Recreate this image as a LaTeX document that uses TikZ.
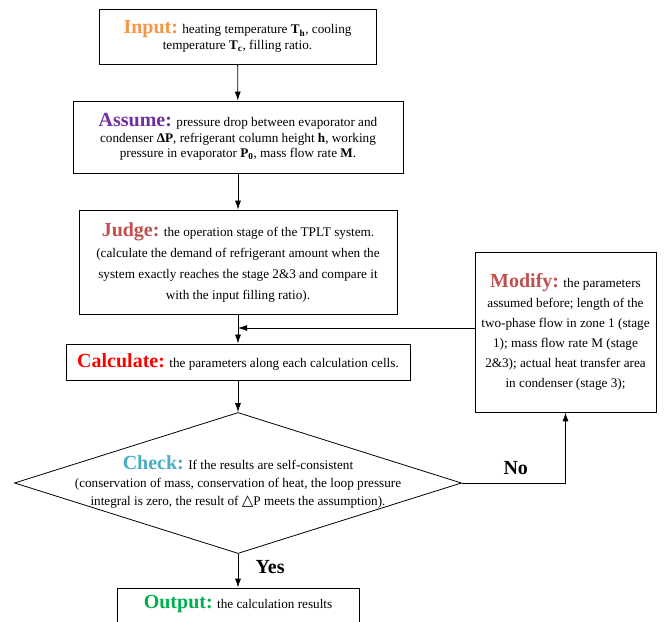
\documentclass[tikz,border=0pt]{standalone}
\usepackage{fontspec}
\setmainfont{Liberation Serif}
\newfontfamily\trifont{DejaVu Sans}
\usetikzlibrary{shapes.geometric,arrows.meta}
\newcommand{\kw}[2]{{\fontsize{20}{20}\selectfont\bfseries\color{#1}#2}}
\newcommand{\bsub}[2]{\textbf{#1\textsubscript{#2}}}
\begin{document}
\begin{tikzpicture}[x=1pt,y=1pt,
  stepbox/.style={draw,line width=0.8pt,inner sep=0pt,align=center,font=\fontsize{13.2}{15.5}\selectfont},
  flow/.style={draw,line width=0.8pt,-{Latex[length=9pt,width=6pt]}},
  answer/.style={font=\fontsize{20}{20}\selectfont\bfseries}]
\definecolor{inputColor}{RGB}{247,150,70}
\definecolor{assumeColor}{RGB}{112,48,160}
\definecolor{judgeColor}{RGB}{192,80,77}
\definecolor{calcColor}{RGB}{255,0,0}
\definecolor{checkColor}{RGB}{75,172,198}
\definecolor{outputColor}{RGB}{0,176,80}
\path[use as bounding box,fill=white] (0,0) rectangle (669,621);

\node[stepbox,minimum width=277,minimum height=55] (input) at (237.5,584.5)
  {\kw{inputColor}{Input:} heating temperature \bsub{T}{h}, cooling\\
   temperature \bsub{T}{c}, filling ratio.};

\node[stepbox,minimum width=330,minimum height=72] (assume) at (238,484)
  {\kw{assumeColor}{Assume:} pressure drop between evaporator and\\
   condenser \textbf{ΔP}, refrigerant column height \textbf{h}, working\\
   pressure in evaporator \bsub{P}{0}, mass flow rate \textbf{M}.};

\node[stepbox,minimum width=318,minimum height=104,
  font=\fontsize{13.2}{21}\selectfont] (judge) at (238,359)
  {\kw{judgeColor}{Judge:} the operation stage of the TPLT system.\\
   (calculate the demand of refrigerant amount when the\\
   system exactly reaches the stage 2\&3 and compare it\\
   with the input filling ratio).};

\node[stepbox,minimum width=344,minimum height=36] (calc) at (238,259)
  {\kw{calcColor}{Calculate:} the parameters along each calculation cells.};

\node[draw,line width=0.8pt,diamond,minimum width=447,minimum height=141,
  inner sep=0pt] (check) at (238,138) {};
\node[align=center,inner sep=0pt,font=\fontsize{13.2}{18}\selectfont] (checktxt) at (238,139)
  {\kw{checkColor}{Check:} If the results are self-consistent\\
   (conservation of mass, conservation of heat, the loop pressure\\
   integral is zero, the result of {\trifont\fontsize{15}{15}\selectfont △}P meets the assumption).};

\node[stepbox,minimum width=242,minimum height=40] (output) at (238,13) {};
\node[inner sep=0pt,font=\fontsize{13.2}{15.5}\selectfont] (outtxt) at (238,17)
  {\kw{outputColor}{Output:} the calculation results};

\node[stepbox,minimum width=181,minimum height=160,
  font=\fontsize{13.2}{20}\selectfont] (modify) at (565.5,289)
  {\kw{judgeColor}{Modify:} the parameters\\
   assumed before; length of the\\
   two-phase flow in zone 1 (stage\\
   1); mass flow rate M (stage\\
   2\&3); actual heat transfer area\\
   in condenser (stage 3);};

% connectors
\coordinate (fb) at (judge.south |- 0,293);
\draw[flow] (input) -- (assume);
\draw[flow] (assume) -- (judge);
\draw[flow] (judge) -- (calc);
\draw[flow] (modify.west |- fb) -- (fb);
\draw[flow] (calc) -- (check);
\draw[flow] (check.south) -- (output.north) node[answer,pos=0.4,right=14pt] (yes) {Yes};
\draw[flow] (check.east) -| (modify.south) node[answer,pos=0.26,above=5pt] (no) {No};
\end{tikzpicture}
\end{document}
